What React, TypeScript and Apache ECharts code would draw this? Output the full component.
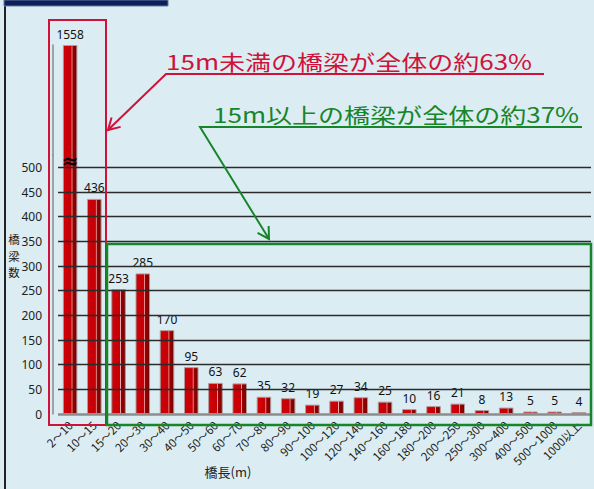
import React, { useEffect, useRef } from 'react';
import * as echarts from 'echarts';

const categories = [
  '2～10', '10～15', '15～20', '20～30', '30～40', '40～50', '50～60', '60～70',
  '70～80', '80～90', '90～100', '100～120', '120～140', '140～160', '160～180',
  '180～200', '200～250', '250～300', '300～400', '400～500', '500～1000', '1000以上',
];
const bridgeCounts = [1558, 436, 253, 285, 170, 95, 63, 62, 35, 32, 19, 27, 34, 25, 10, 16, 21, 8, 13, 5, 5, 4];
const yTicks = [0, 50, 100, 150, 200, 250, 300, 350, 400, 450, 500];
const axisBreak = { start: 525, end: 1335 };
const redNote = '15m未満の橋梁が全体の約63%';
const greenNote = '15m以上の橋梁が全体の約37%';
const yTitleChars = ['橋', '梁', '数'];

const RED = '#d0123a';
const GREEN = '#17852a';
const FONT = '"Noto Sans", "Noto Sans CJK JP", sans-serif';
const JFONT = '"Noto Sans CJK JP", "Noto Sans", sans-serif';

function arrow(from: number[], to: number[], color: string, len = 13) {
  const dx = from[0] - to[0];
  const dy = from[1] - to[1];
  const d = Math.hypot(dx, dy);
  const bx = dx / d, by = dy / d;
  const c = Math.cos(Math.PI / 6), s = Math.sin(Math.PI / 6);
  const a1 = [to[0] + len * (bx * c - by * s), to[1] + len * (bx * s + by * c)];
  const a2 = [to[0] + len * (bx * c + by * s), to[1] + len * (-bx * s + by * c)];
  return {
    type: 'polyline',
    silent: true,
    shape: { points: [a1, to, a2] },
    style: { stroke: color, lineWidth: 2, fill: null },
    z: 100,
  };
}

export default function App() {
  const ref = useRef<HTMLDivElement>(null);
  useEffect(() => {
    if (!ref.current) return;
    const chart = echarts.init(ref.current, null, { renderer: 'svg' });
    const barColor = {
      type: 'linear', x: 0, y: 0, x2: 1, y2: 0,
      colorStops: [
        { offset: 0, color: '#9a0000' },
        { offset: 0.1, color: '#d00008' },
        { offset: 0.58, color: '#c40006' },
        { offset: 0.64, color: '#eeb0b0' },
        { offset: 0.7, color: '#9a0000' },
        { offset: 1, color: '#760000' },
      ],
    };
    chart.setOption({
      animation: false,
      backgroundColor: '#dbedf3',
      textStyle: { fontFamily: FONT },
      grid: { left: 58, right: 3, top: 45, bottom: 75, containLabel: false },
      xAxis: {
        type: 'category',
        data: categories,
        axisLine: { show: false },
        axisTick: { show: false },
        axisLabel: {
          interval: 0,
          rotate: 45,
          margin: 9,
          fontSize: 11.5,
          color: '#222',
          fontFamily: JFONT,
        },
      },
      yAxis: {
        type: 'value',
        min: 0,
        max: 1558,
        interval: 50,
        offset: 5,
        breaks: [{ start: axisBreak.start, end: axisBreak.end, gap: 0 }],
        breakArea: { show: false },
        splitLine: { show: false },
        axisTick: { show: false },
        axisLine: { show: true, lineStyle: { color: '#8a8a8a', width: 1.5 } },
        axisLabel: { show: false },
      },
      series: [
        {
          type: 'line',
          data: [],
          z: 1,
          silent: true,
          markLine: {
            silent: true,
            symbol: ['none', 'none'],
            label: {
              show: true,
              position: 'start',
              distance: 16,
              formatter: '{c}',
              fontSize: 12,
              color: '#222',
              fontFamily: FONT,
            },
            data: yTicks.map((v) => ({
              yAxis: v,
              lineStyle: v === 0
                ? { color: '#8c8c8c', width: 2.5, type: 'solid' }
                : { color: '#2b2b2b', width: 1.4, type: 'solid' },
            })),
          },
        },
        {
          type: 'bar',
          data: bridgeCounts,
          z: 3,
          barWidth: '60%',
          itemStyle: { color: barColor, borderColor: '#b59a9a', borderWidth: 1 },
          label: {
            show: true,
            position: 'top',
            distance: 5,
            fontSize: 12,
            color: '#111',
            fontFamily: FONT,
          },
        },
      ],
      graphic: [
        { type: 'rect', silent: true, shape: { x: 4, y: 0, width: 2, height: 489 }, style: { fill: '#222' }, z: 90 },
        { type: 'rect', silent: true, shape: { x: 4, y: 0, width: 164, height: 6 }, style: { fill: '#0b1f5c', stroke: '#6a7a9a', lineWidth: 1 }, z: 90 },
        { type: 'rect', silent: true, shape: { x: 49, y: 20, width: 57, height: 405 }, style: { fill: null, stroke: RED, lineWidth: 2 }, z: 95 },
        { type: 'rect', silent: true, shape: { x: 107, y: 244, width: 484, height: 181 }, style: { fill: null, stroke: GREEN, lineWidth: 2.5 }, z: 95 },
        { type: 'text', silent: true, x: 70, y: 161, style: { text: '≈', fontSize: 20, fontWeight: 'bold', fill: '#000', align: 'center', verticalAlign: 'middle', fontFamily: 'DejaVu Sans' }, z: 96 },
        { type: 'polyline', silent: true, shape: { points: [[108, 130], [166, 74], [544, 74]] }, style: { stroke: RED, lineWidth: 2, fill: null }, z: 100 },
        arrow([166, 74], [108, 130], RED),
        { type: 'polyline', silent: true, shape: { points: [[269, 239], [200, 127], [582, 127]] }, style: { stroke: GREEN, lineWidth: 2, fill: null }, z: 100 },
        arrow([200, 127], [269, 239], GREEN),
        { type: 'text', silent: true, x: 166, y: 61, scaleX: 1.24, style: { text: redNote, fontSize: 21, fill: RED, align: 'left', verticalAlign: 'middle', fontFamily: JFONT }, z: 100 },
        { type: 'text', silent: true, x: 213, y: 114, scaleX: 1.24, style: { text: greenNote, fontSize: 21, fill: GREEN, align: 'left', verticalAlign: 'middle', fontFamily: JFONT }, z: 100 },
        { type: 'text', silent: true, x: 228, y: 471, style: { text: '橋長(m)', fontSize: 13, fill: '#222', align: 'center', verticalAlign: 'middle', fontFamily: JFONT }, z: 100 },
        ...yTitleChars.map((ch, i) => ({
          type: 'text', silent: true, x: 14, y: 239 + i * 16.5,
          style: { text: ch, fontSize: 11.5, fill: '#222', align: 'center', verticalAlign: 'middle', fontFamily: JFONT },
          z: 100,
        })),
      ],
    });
    return () => chart.dispose();
  }, []);
  return <div ref={ref} style={{ position: 'fixed', left: 0, top: 0, width: 594, height: 489 }} />;
}
